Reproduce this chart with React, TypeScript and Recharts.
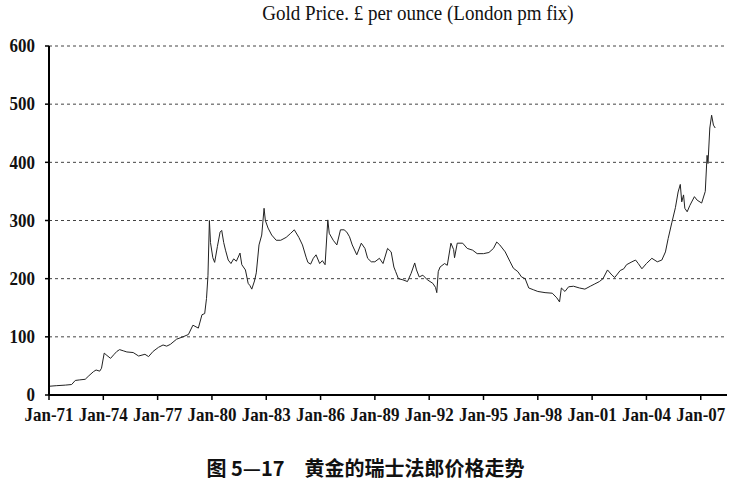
import React from "react";
import { LineChart, Line, XAxis, YAxis, CartesianGrid } from "recharts";

const times: number[] = [
  1971.0, 1971.4, 1971.9, 1972.25, 1972.45, 1972.7, 1973.0, 1973.2, 1973.45, 1973.6,
  1973.8, 1973.9, 1974.05, 1974.2, 1974.4, 1974.6, 1974.75, 1974.9, 1975.1, 1975.3,
  1975.65, 1975.95, 1976.3, 1976.5, 1976.75, 1977.05, 1977.3, 1977.5, 1977.7, 1978.05,
  1978.4, 1978.7, 1978.95, 1979.25, 1979.45, 1979.6, 1979.7, 1979.78, 1979.86, 1979.92,
  1980.05, 1980.15, 1980.3, 1980.45, 1980.54, 1980.65, 1980.75, 1980.9, 1981.05, 1981.2,
  1981.35, 1981.55, 1981.65, 1981.85, 1982.0, 1982.1, 1982.2, 1982.35, 1982.45, 1982.6,
  1982.75, 1982.88, 1982.95, 1983.1, 1983.3, 1983.55, 1983.8, 1984.1, 1984.35, 1984.55,
  1984.8, 1985.0, 1985.2, 1985.3, 1985.45, 1985.6, 1985.75, 1985.95, 1986.1, 1986.25,
  1986.4, 1986.48, 1986.7, 1986.9, 1987.1, 1987.3, 1987.45, 1987.6, 1987.75, 1988.0,
  1988.25, 1988.45, 1988.6, 1988.8, 1989.0, 1989.25, 1989.45, 1989.7, 1989.9, 1990.05,
  1990.15, 1990.3, 1990.55, 1990.8, 1991.0, 1991.2, 1991.3, 1991.45, 1991.65, 1991.9,
  1992.2, 1992.35, 1992.42, 1992.5, 1992.6, 1992.85, 1993.0, 1993.2, 1993.35, 1993.4,
  1993.55, 1993.85, 1994.1, 1994.4, 1994.65, 1995.0, 1995.3, 1995.55, 1995.73, 1995.9,
  1996.2, 1996.47, 1996.65, 1996.9, 1997.1, 1997.3, 1997.5, 1997.75, 1998.0, 1998.4,
  1998.8, 1999.05, 1999.2, 1999.3, 1999.5, 1999.7, 1999.97, 2000.3, 2000.6, 2000.9,
  2001.15, 2001.4, 2001.6, 2001.85, 2002.1, 2002.25, 2002.55, 2002.75, 2002.9, 2003.2,
  2003.4, 2003.55, 2003.75, 2004.0, 2004.3, 2004.6, 2004.85, 2005.05, 2005.2, 2005.4,
  2005.6, 2005.75, 2005.87, 2005.95, 2006.05, 2006.12, 2006.25, 2006.4, 2006.65, 2006.8,
  2007.05, 2007.25, 2007.35, 2007.4, 2007.5, 2007.6, 2007.7, 2007.8,
];

const prices: number[] = [
  15, 16, 17, 18, 25, 26, 27, 33, 40, 43,
  41, 46, 72, 68, 63, 70, 75, 78, 76, 74,
  73, 67, 70, 66, 75, 82, 86, 84, 87, 96,
  100, 104, 120, 115, 138, 140, 166, 205, 300, 262,
  236, 228, 255, 280, 283, 262, 249, 232, 226, 234,
  230, 244, 224, 215, 192, 188, 182, 196, 210, 258,
  275, 321, 300, 287, 275, 266, 266, 271, 278, 284,
  271, 258, 237, 228, 225, 235, 241, 226, 231, 224,
  301, 278, 266, 258, 284, 284, 280, 272, 258, 241,
  261, 252, 235, 229, 229, 235, 226, 252, 246, 220,
  212, 200, 198, 195, 209, 227, 215, 203, 206, 198,
  192, 185, 176, 212, 220, 226, 223, 261, 250, 236,
  261, 261, 252, 249, 243, 243, 245, 252, 263, 258,
  246, 229, 218, 212, 203, 200, 184, 181, 178, 176,
  175, 167, 160, 184, 178, 186, 187, 184, 182, 187,
  191, 195, 200, 215, 206, 202, 214, 217, 224, 229,
  232, 226, 217, 226, 235, 229, 232, 246, 269, 296,
  322, 349, 362, 332, 344, 321, 315, 326, 341, 335,
  330, 350, 412, 398, 459, 481, 464, 459,
];

const xTicks: number[] = [1971, 1974, 1977, 1980, 1983, 1986, 1989, 1992, 1995, 1998, 2001, 2004, 2007];
const yTicks: number[] = [0, 100, 200, 300, 400, 500, 600];

const data = times.map((t, i) => ({ t, v: prices[i] }));

const serif = "'Liberation Serif', 'Times New Roman', serif";

const fmtX = (t: number) => "Jan-" + String(t).slice(2);

function XTick(props: any) {
  const { x, y, payload } = props;
  return (
    <text
      transform={`translate(${x},${y}) scale(1,1.15)`}
      textAnchor="middle"
      dy="0.72em"
      fill="#111"
      fontSize={17}
      fontWeight={700}
      fontFamily={serif}
    >
      {fmtX(payload.value)}
    </text>
  );
}

function YTick(props: any) {
  const { x, y, payload } = props;
  return (
    <text
      transform={`translate(${x},${y}) scale(1,1.15)`}
      textAnchor="end"
      dy="0.32em"
      fill="#111"
      fontSize={17}
      fontWeight={700}
      fontFamily={serif}
    >
      {payload.value}
    </text>
  );
}

export default function App() {
  return (
    <div style={{ position: "absolute", left: 0, top: 0, width: 731, height: 487, background: "#fff" }}>
      <div
        style={{
          position: "absolute",
          left: 118,
          width: 600,
          top: 2,
          textAlign: "center",
          fontFamily: serif,
          fontSize: 19,
          color: "#111",
          whiteSpace: "nowrap",
          transform: "scaleY(1.1)",
        }}
      >
        Gold Price. £ per ounce (London pm fix)
      </div>
      <div style={{ position: "absolute", left: 0, top: 0 }}>
        <LineChart width={731} height={440} data={data} margin={{ top: 46, right: 4, left: 0, bottom: 15 }}>
          <CartesianGrid horizontal={true} vertical={false} stroke="#444" strokeDasharray="3 3" />
          <XAxis
            dataKey="t"
            type="number"
            domain={[1971, 2008.45]}
            ticks={xTicks}
            interval={0}
            allowDataOverflow
            height={30}
            tickFormatter={fmtX}
            axisLine={{ stroke: "#000", strokeWidth: 2 }}
            tickLine={{ stroke: "#000", strokeWidth: 1.5 }}
            tickSize={5}
            tickMargin={7}
            tick={<XTick />}
          />
          <YAxis
            type="number"
            domain={[0, 600]}
            ticks={yTicks}
            interval={0}
            width={49}
            axisLine={{ stroke: "#000", strokeWidth: 2 }}
            tickLine={{ stroke: "#000", strokeWidth: 1.5 }}
            tickSize={4}
            tickMargin={10}
            tick={<YTick />}
          />
          <Line
            type="linear"
            dataKey="v"
            stroke="#222"
            strokeWidth={1}
            dot={false}
            isAnimationActive={false}
          />
        </LineChart>
      </div>
      <div
        style={{
          position: "absolute",
          left: 0,
          width: 731,
          top: 453,
          textAlign: "center",
          fontFamily: "'Noto Sans CJK SC', sans-serif",
          fontWeight: 700,
          fontSize: 20,
          color: "#111",
          whiteSpace: "pre",
          paddingRight: 2,
        }}
      >
        {"图 5—17　黄金的瑞士法郎价格走势"}
      </div>
    </div>
  );
}
